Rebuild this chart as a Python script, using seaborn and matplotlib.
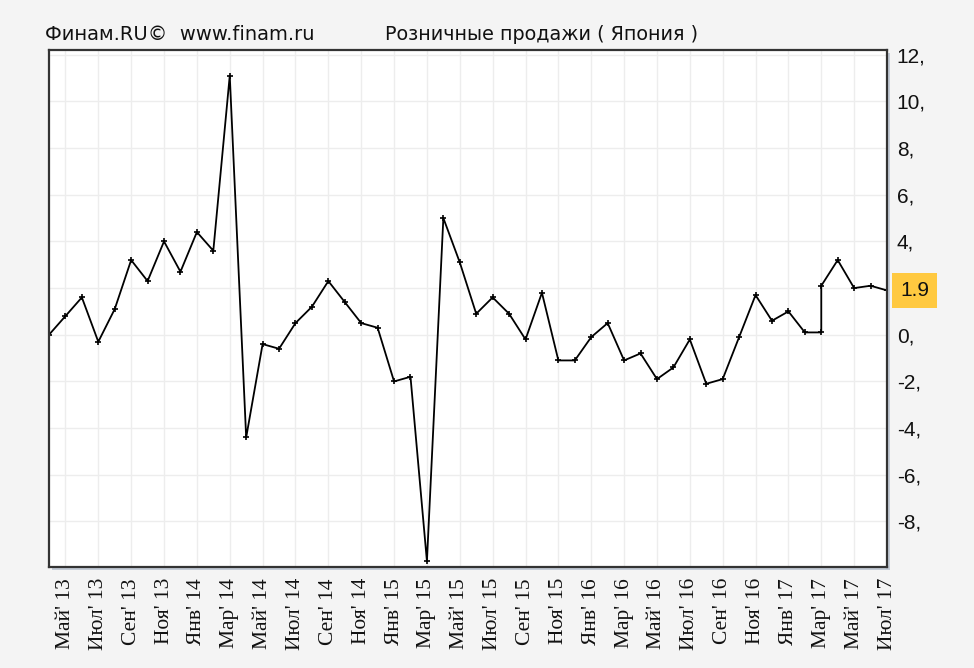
import numpy as np
import pandas as pd
import matplotlib
matplotlib.use("Agg")
import matplotlib.pyplot as plt
import matplotlib.transforms as mtransforms
from matplotlib.patches import Rectangle
import seaborn as sns

# -----------------------------
# DATA (Apr 2013 .. Jul 2017, month index 0..51)
# -----------------------------

month_idx = [0, 1, 2, 3, 4, 5, 6, 7, 8, 9, 10, 11, 12, 13, 14, 15, 16, 17,
             18, 19, 20, 21, 22, 23, 24, 25, 26, 27, 28, 29, 30, 31, 32, 33,
             34, 35, 36, 37, 38, 39, 40, 41, 42, 43, 44, 45, 46, 47, 47, 48,
             49, 50, 51]
sales = [0.0, 0.8, 1.6, -0.3, 1.1, 3.2, 2.3, 4.0, 2.7, 4.4, 3.6, 11.1,
         -4.4, -0.4, -0.6, 0.5, 1.2, 2.3, 1.4, 0.5, 0.3, -2.0, -1.8, -9.7,
         5.0, 3.1, 0.9, 1.6, 0.9, -0.2, 1.8, -1.1, -1.1, -0.1, 0.5, -1.1,
         -0.8, -1.9, -1.4, -0.2, -2.1, -1.9, -0.1, 1.7, 0.6, 1.0, 0.1, 0.1,
         2.1, 3.2, 2.0, 2.1, 1.9]

tick_idx = list(range(1, 52, 2))
tick_labels = ["Май' 13", "Июл' 13", "Сен' 13", "Ноя' 13",
               "Янв' 14", "Мар' 14", "Май' 14", "Июл' 14", "Сен' 14", "Ноя' 14",
               "Янв' 15", "Мар' 15", "Май' 15", "Июл' 15", "Сен' 15", "Ноя' 15",
               "Янв' 16", "Мар' 16", "Май' 16", "Июл' 16", "Сен' 16", "Ноя' 16",
               "Янв' 17", "Мар' 17", "Май' 17", "Июл' 17"]

y_ticks = [-8, -6, -4, -2, 0, 2, 4, 6, 8, 10, 12]
y_labels = ["-8,", "-6,", "-4,", "-2,", "0,", "", "4,", "6,", "8,", "10,", "12,"]

last_value = 1.9

df = pd.DataFrame({"month": month_idx, "value": sales})

# -----------------------------
# FIGURE
# -----------------------------

sns.set_style("whitegrid")
plt.rcParams['font.family'] = ['Liberation Sans', 'DejaVu Sans']

fig = plt.figure(figsize=(9.74, 6.68), dpi=100, facecolor='#f4f4f4')
ax = fig.add_axes([49/974, 1-567/668, 838/974, 517/668])
ax.set_facecolor('white')

sns.lineplot(
    data=df,
    x="month",
    y="value",
    estimator=None,
    sort=False,
    color='black',
    linewidth=1.3,
    marker='+',
    markersize=4.5,
    markeredgewidth=1.2,
    markeredgecolor='black',
    ax=ax
)

ax.set_xlim(0, 51)
ax.set_ylim(-9.95, 12.2)

ax.set_xticks(tick_idx)
ax.set_xticklabels(tick_labels, rotation=90, va='top', ha='center',
                   family='Liberation Serif', fontsize=15.5)
shift = mtransforms.ScaledTranslation(-4/100, 0, fig.dpi_scale_trans)
for lbl in ax.get_xticklabels():
    lbl.set_transform(lbl.get_transform() + shift)

ax.yaxis.tick_right()
ax.set_yticks(y_ticks)
ax.set_yticklabels(y_labels, fontsize=15)
ax.tick_params(axis='both', length=0, colors='#111111')
ax.tick_params(axis='x', pad=8)
ax.tick_params(axis='y', pad=7)

ax.set_xlabel("")
ax.set_ylabel("")

ax.grid(True, color='#ededed', linewidth=1)
for sp in ax.spines.values():
    sp.set_visible(True)
    sp.set_color('#333333')
    sp.set_linewidth(1.6)

# shadow along right/bottom edge
shadow = Rectangle((0, 0), 1, 1,
                   transform=ax.transAxes + mtransforms.ScaledTranslation(3/100, -3/100, fig.dpi_scale_trans),
                   facecolor='#c3cbd6', edgecolor='none', zorder=-1)
fig.patches.append(shadow)

# last value marker on the axis
ax.annotate(f"{last_value}", xy=(1, last_value), xycoords=('axes fraction', 'data'),
            xytext=(13, 0), textcoords='offset pixels', va='center', ha='left',
            fontsize=15, color='#111111', annotation_clip=False,
            bbox=dict(boxstyle='square,pad=0.4', facecolor='#ffc940', edgecolor='none'))

# header texts
fig.text(45/974, 1-35/668, "Финам.RU©  www.finam.ru", fontsize=14,
         family='DejaVu Sans', va='center', ha='left', color='#111111')
fig.text(385/974, 1-35/668, "Розничные продажи ( Япония )", fontsize=13.8,
         family='DejaVu Sans', va='center', ha='left', color='#111111')

plt.savefig("out.png", dpi=100, facecolor=fig.get_facecolor())
